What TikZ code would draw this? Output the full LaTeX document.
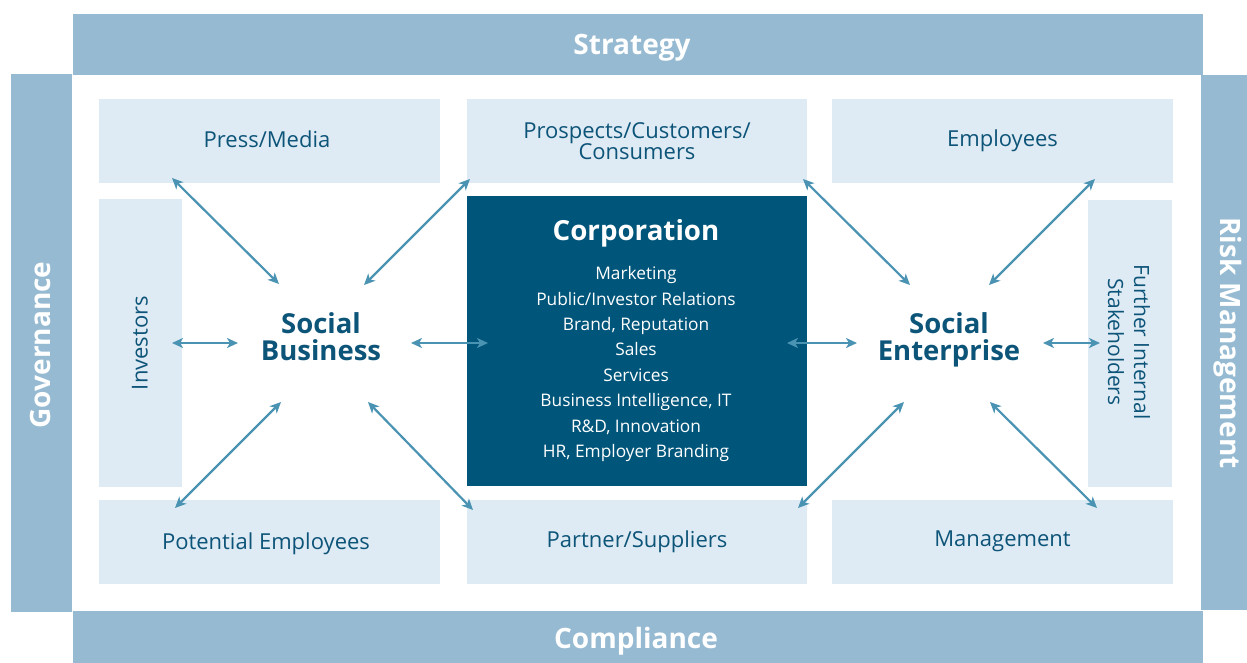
\documentclass[tikz,border=0pt]{standalone}
\usepackage{fontspec}
\setmainfont{Open Sans}
\usetikzlibrary{arrows.meta}
\definecolor{barcol}{HTML}{95BAD2}
\definecolor{lightbox}{HTML}{DFEBF4}
\definecolor{darkbox}{HTML}{00557A}
\definecolor{txtblue}{HTML}{0D5479}
\definecolor{arrcol}{HTML}{4A93B3}
\tikzset{
  bar/.style={fill=barcol, draw=none, inner sep=0pt, outer sep=0pt},
  bartext/.style={text=white, font=\fontsize{28}{30}\selectfont\bfseries},
  sbox/.style={fill=lightbox, draw=none, inner sep=0pt, outer sep=0pt, text=txtblue, font=\fontsize{22}{24}\selectfont, align=center},
  boxlabel/.style={text=txtblue, font=\fontsize{22}{24}\selectfont, align=center},
  corp/.style={fill=darkbox, draw=none, inner sep=0pt, outer sep=0pt},
  hub/.style={text=txtblue, font=\fontsize{27.5}{27}\selectfont\bfseries, align=center},
  link/.style={draw=arrcol, line width=2.2pt, {Stealth[length=11pt,width=10pt,inset=3pt]}-{Stealth[length=11pt,width=10pt,inset=3pt]}}
}
\begin{document}
\begin{tikzpicture}[x=1pt,y=-1pt]
\useasboundingbox (0,0) rectangle (1247,663);
% frame bars
\node[bar, minimum width=1130pt, minimum height=61pt] (strat) at (638,44.5) {};
\node[bartext] (strattxt) at (632,48) {Strategy};
\node[bar, minimum width=1130pt, minimum height=52pt] (comp) at (638,637) {};
\node[bartext] (comptxt) at (636,641) {Compliance};
\node[bar, minimum width=61pt, minimum height=538pt] (gov) at (41.5,343) {};
\node[bartext, rotate=90] (govtxt) at (40,345) {Governance};
\node[bar, minimum width=46pt, minimum height=535pt] (risk) at (1224,342.5) {};
\node[bartext, rotate=-90] (risktxt) at (1228,343) {Risk Management};
% stakeholder boxes
\node[sbox, minimum width=341pt, minimum height=84pt] (press) at (269.5,141) {};
\node[boxlabel] (presstxt) at (267,139) {Press/Media};
\node[sbox, minimum width=340pt, minimum height=84pt] (prosp) at (637,141) {Prospects/Customers/\\[-3pt]Consumers};
\node[sbox, minimum width=341pt, minimum height=84pt] (empl) at (1002.5,141) {Employees};
\node[sbox, minimum width=341pt, minimum height=84pt] (potemp) at (269.5,541.5) {};
\node[boxlabel] (potemptxt) at (266,544) {Potential Employees};
\node[sbox, minimum width=340pt, minimum height=84pt] (partner) at (637,541.5) {Partner/Suppliers};
\node[sbox, minimum width=341pt, minimum height=84pt] (mgmt) at (1002.5,541.5) {Management};
\node[sbox, minimum width=83pt, minimum height=288pt] (inv) at (140.5,343) {};
\node[boxlabel, rotate=90] (invtxt) at (140,343) {Investors};
\node[sbox, minimum width=84pt, minimum height=287pt] (further) at (1130,343.5) {};
\node[boxlabel, font=\fontsize{21}{26}\selectfont, rotate=-90] (furthertxt) at (1129,342) {Further Internal\\Stakeholders};
% corporation
\node[corp, minimum width=340pt, minimum height=290pt] (corp) at (637,341) {};
\node[text=white, font=\fontsize{27.7}{30}\selectfont\bfseries] (corptitle) at (636,233) {Corporation};
\node[text=white, font=\fontsize{17.3}{25.4}\selectfont, align=center, anchor=north] (corplist) at (636,263)
 {Marketing\\Public/Investor Relations\\Brand, Reputation\\Sales\\Services\\Business Intelligence, IT\\R\&D, Innovation\\HR, Employer Branding};
% hubs
\node[hub] (sb) at (321,337) {Social\\Business};
\node[hub] (se) at (949,340) {Social\\Enterprise};
% arrow end points
\coordinate (a1) at (172,178); \coordinate (b1) at (279,284);
\coordinate (a2) at (470,179); \coordinate (b2) at (364,285);
\coordinate (a3) at (172,343); \coordinate (b3) at (238,343);
\coordinate (a4) at (411,343); \coordinate (b4) at (488,343);
\coordinate (a5) at (281,402); \coordinate (b5) at (175,508);
\coordinate (a6) at (368,402); \coordinate (b6) at (473,510);
\coordinate (a7) at (803,179); \coordinate (b7) at (910,285);
\coordinate (a8) at (1095,179); \coordinate (b8) at (989,285);
\coordinate (a9) at (787,343); \coordinate (b9) at (857,343);
\coordinate (a10) at (1043,343); \coordinate (b10) at (1100,343);
\coordinate (a11) at (904,402); \coordinate (b11) at (798,508);
\coordinate (a12) at (990,402); \coordinate (b12) at (1097,508);
\foreach \i in {1,...,12} { \draw[link] (a\i) -- (b\i); }
\end{tikzpicture}
\end{document}
